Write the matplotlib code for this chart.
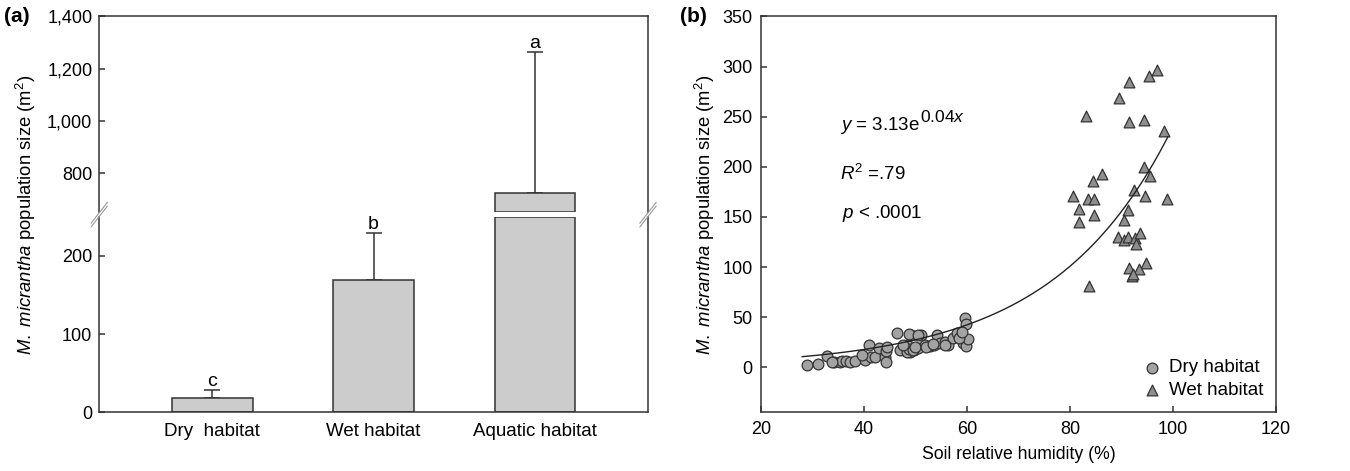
import matplotlib
matplotlib.use("Agg")
import matplotlib.pyplot as plt
import numpy as np
from matplotlib.lines import Line2D

plt.rcParams['font.family'] = ['Liberation Sans', 'DejaVu Sans']
plt.rcParams['mathtext.fontset'] = 'custom'
plt.rcParams['mathtext.rm'] = 'Liberation Sans'
plt.rcParams['mathtext.it'] = 'Liberation Sans:italic'
plt.rcParams['mathtext.bf'] = 'Liberation Sans:bold'

# ---------------- data: panel (a) ----------------
habitats = ["Dry  habitat", "Wet habitat", "Aquatic habitat"]
pop_mean = [19, 169, 724]
pop_err = [10, 60, 541]
letters = ["c", "b", "a"]
low_ticks = [0, 100, 200]
high_ticks = [800, 1000, 1200, 1400]
high_ticklabels = ["800", "1,000", "1,200", "1,400"]
LOW_LIM = (0, 250)
HIGH_LIM = (650, 1400)

# ---------------- data: panel (b) ----------------
dry_x = [28.9, 31.1, 32.9, 34.1, 35.4, 35.7, 36.6, 37.3, 38.3, 40.1,
         41.0, 41.3, 42.2, 43.0, 44.0, 44.2, 44.5, 44.3, 46.5, 47.7,
         48.3, 49.2, 48.9, 49.8, 50.4, 51.0, 51.9, 52.8, 53.6, 54.2,
         54.8, 55.7, 56.3, 57.2, 58.1, 58.9, 59.2, 59.7, 59.8, 59.8,
         60.1, 48.7, 50.5, 47.0, 48.3, 48.8, 49.6, 49.9, 47.5, 52.1,
         53.4, 55.7, 58.4, 59.0, 33.8, 39.6]
dry_y = [2.7, 3.7, 11.0, 5.3, 5.3, 6.7, 6.0, 5.3, 6.7, 7.0,
         22.7, 10.0, 10.0, 19.3, 10.0, 16.0, 20.0, 5.3, 33.7, 17.7,
         22.7, 32.0, 15.3, 17.7, 19.3, 32.0, 22.7, 21.7, 22.7, 32.0,
         24.3, 25.3, 22.7, 29.3, 34.3, 31.0, 24.3, 48.7, 42.7, 21.0,
         27.7, 32.7, 32.0, 17.0, 15.0, 18.0, 17.0, 20.0, 22.0, 20.0,
         23.0, 22.0, 29.3, 35.0, 5.5, 12.0]
wet_x = [96.8, 95.3, 91.4, 89.6, 83.2, 91.5, 94.3, 98.3, 86.3, 84.4,
         94.4, 95.5, 92.4, 80.6, 83.4, 84.7, 94.6, 98.8, 81.8, 91.2,
         84.7, 81.8, 90.4, 89.4, 90.4, 91.2, 92.6, 93.6, 92.8, 94.8,
         91.5, 93.3, 92.0, 83.6, 92.3]
wet_y = [297, 291, 285, 269, 251, 245, 247, 236, 193, 186,
         200, 191, 177, 171, 168, 168, 171, 168, 158, 157,
         152, 145, 147, 130, 127, 130, 129, 134, 123, 104,
         99, 98, 91, 81, 93]
fit_a = 3.13
fit_b = 0.0434
fit_range = (28.0, 99.0)

# ---------------- figure ----------------
fig = plt.figure(figsize=(13.5, 4.71), dpi=100)
EDGE = '#333333'
LW = 1.1
FS = 13

L_A, R_A = 0.0735, 0.480
TOP, BOT = 0.965, 0.1245
GAP_TOP, GAP_BOT = 0.5490, 0.5395

ax_hi = fig.add_axes([L_A, GAP_TOP, R_A - L_A, TOP - GAP_TOP])
ax_lo = fig.add_axes([L_A, BOT, R_A - L_A, GAP_BOT - BOT])

xpos = np.arange(len(habitats))
bw = 0.5
for ax in (ax_lo, ax_hi):
    for s in ax.spines.values():
        s.set_color(EDGE)
        s.set_linewidth(LW)
    ax.set_xlim(-0.7, 2.7)
    ax.tick_params(axis='y', direction='in', length=4, width=LW, color=EDGE,
                   labelsize=FS, pad=5)
    ax.tick_params(axis='x', length=0, labelsize=FS + 0.5, pad=8)

ax_lo.set_ylim(*LOW_LIM)
ax_hi.set_ylim(*HIGH_LIM)
ax_lo.spines['top'].set_visible(False)
ax_hi.spines['bottom'].set_visible(False)
ax_hi.set_xticks([])
ax_lo.set_xticks(xpos)
ax_lo.set_xticklabels(habitats)
ax_lo.set_yticks(low_ticks)
ax_hi.set_yticks(high_ticks)
ax_hi.set_yticklabels(high_ticklabels)

lo_h = [min(v, LOW_LIM[1]) for v in pop_mean]
ax_lo.bar(xpos, lo_h, width=bw, color='#cccccc', edgecolor=EDGE, linewidth=LW, zorder=2)
hi_idx = [i for i, v in enumerate(pop_mean) if v > HIGH_LIM[0]]
ax_hi.bar([xpos[i] for i in hi_idx], [pop_mean[i] - HIGH_LIM[0] for i in hi_idx],
          bottom=HIGH_LIM[0], width=bw, color='#cccccc', edgecolor=EDGE,
          linewidth=LW, zorder=2)

for i, (m, e, lt) in enumerate(zip(pop_mean, pop_err, letters)):
    ax = ax_hi if m > HIGH_LIM[0] else ax_lo
    ax.errorbar(xpos[i], m, yerr=[[0], [e]], fmt='none', ecolor=EDGE,
                elinewidth=LW, capsize=6, capthick=LW, zorder=1)
    ax.annotate(lt, (xpos[i], m + e), xytext=(0, 0), textcoords='offset points',
                ha='center', va='bottom', fontsize=FS + 1)

# break marks
for xf in (L_A, R_A):
    yc = (GAP_TOP + GAP_BOT) / 2
    for dy in (-0.004, 0.004):
        fig.add_artist(Line2D([xf - 0.006, xf + 0.006],
                              [yc + dy - 0.022, yc + dy + 0.022],
                              transform=fig.transFigure, color='#999999', lw=0.8))

fig.text(0.019, (TOP + BOT) / 2,
         r'$\mathit{M.\ micrantha}$ population size (m$^2$)',
         rotation=90, ha='center', va='center', fontsize=13.3)
fig.text(0.003, 0.985, '(a)', fontsize=15, fontweight='bold', va='top')

# ---------------- panel (b) ----------------
axb = fig.add_axes([0.5637, BOT, 0.9452 - 0.5637, TOP - BOT])
for s in axb.spines.values():
    s.set_color(EDGE)
    s.set_linewidth(LW)
axb.set_xlim(20, 120)
axb.set_ylim(-45, 350)
axb.set_xticks([20, 40, 60, 80, 100, 120])
axb.set_yticks([0, 50, 100, 150, 200, 250, 300, 350])
axb.tick_params(direction='in', length=4, width=LW, color=EDGE, labelsize=FS, pad=6)

xx = np.linspace(*fit_range, 200)
axb.plot(xx, fit_a * np.exp(fit_b * xx), color='#222222', lw=1.0, zorder=3)
axb.scatter(dry_x, dry_y, s=60, marker='o', facecolor='#a3a3a3', edgecolor='#333333',
            linewidths=0.9, zorder=2, label='Dry habitat')
axb.scatter(wet_x, wet_y, s=60, marker='^', facecolor='#8e8e8e', edgecolor='#333333',
            linewidths=0.9, zorder=2, label='Wet habitat')
axb.legend(loc='lower right', frameon=False, fontsize=FS + 0.5, handletextpad=0.4,
           handlelength=1.0, borderaxespad=0.3, labelspacing=0.3, markerscale=1.0,
           bbox_to_anchor=(1.0, 0.0))

eq = axb.text(35.3, 241, r'$\mathit{y}$ = 3.13e', fontsize=13.5, va='center')
axb.annotate(r'0.04$\mathit{x}$', xy=(1.0, 0.55), xycoords=eq, fontsize=12.5,
             va='bottom', ha='left')
axb.text(35.3, 193, r'$\mathit{R}^2$ =.79', fontsize=13.5, va='center')
axb.text(35.8, 153, r'$\mathit{p}$ < .0001', fontsize=13.5, va='center')
axb.set_xlabel('Soil relative humidity (%)', fontsize=12.7, labelpad=6)
axb.set_ylabel(r'$\mathit{M.\ micrantha}$ population size (m$^2$)',
               fontsize=13.3, labelpad=4)
fig.text(0.504, 0.985, '(b)', fontsize=15, fontweight='bold', va='top')

fig.savefig('out.png', dpi=100)
